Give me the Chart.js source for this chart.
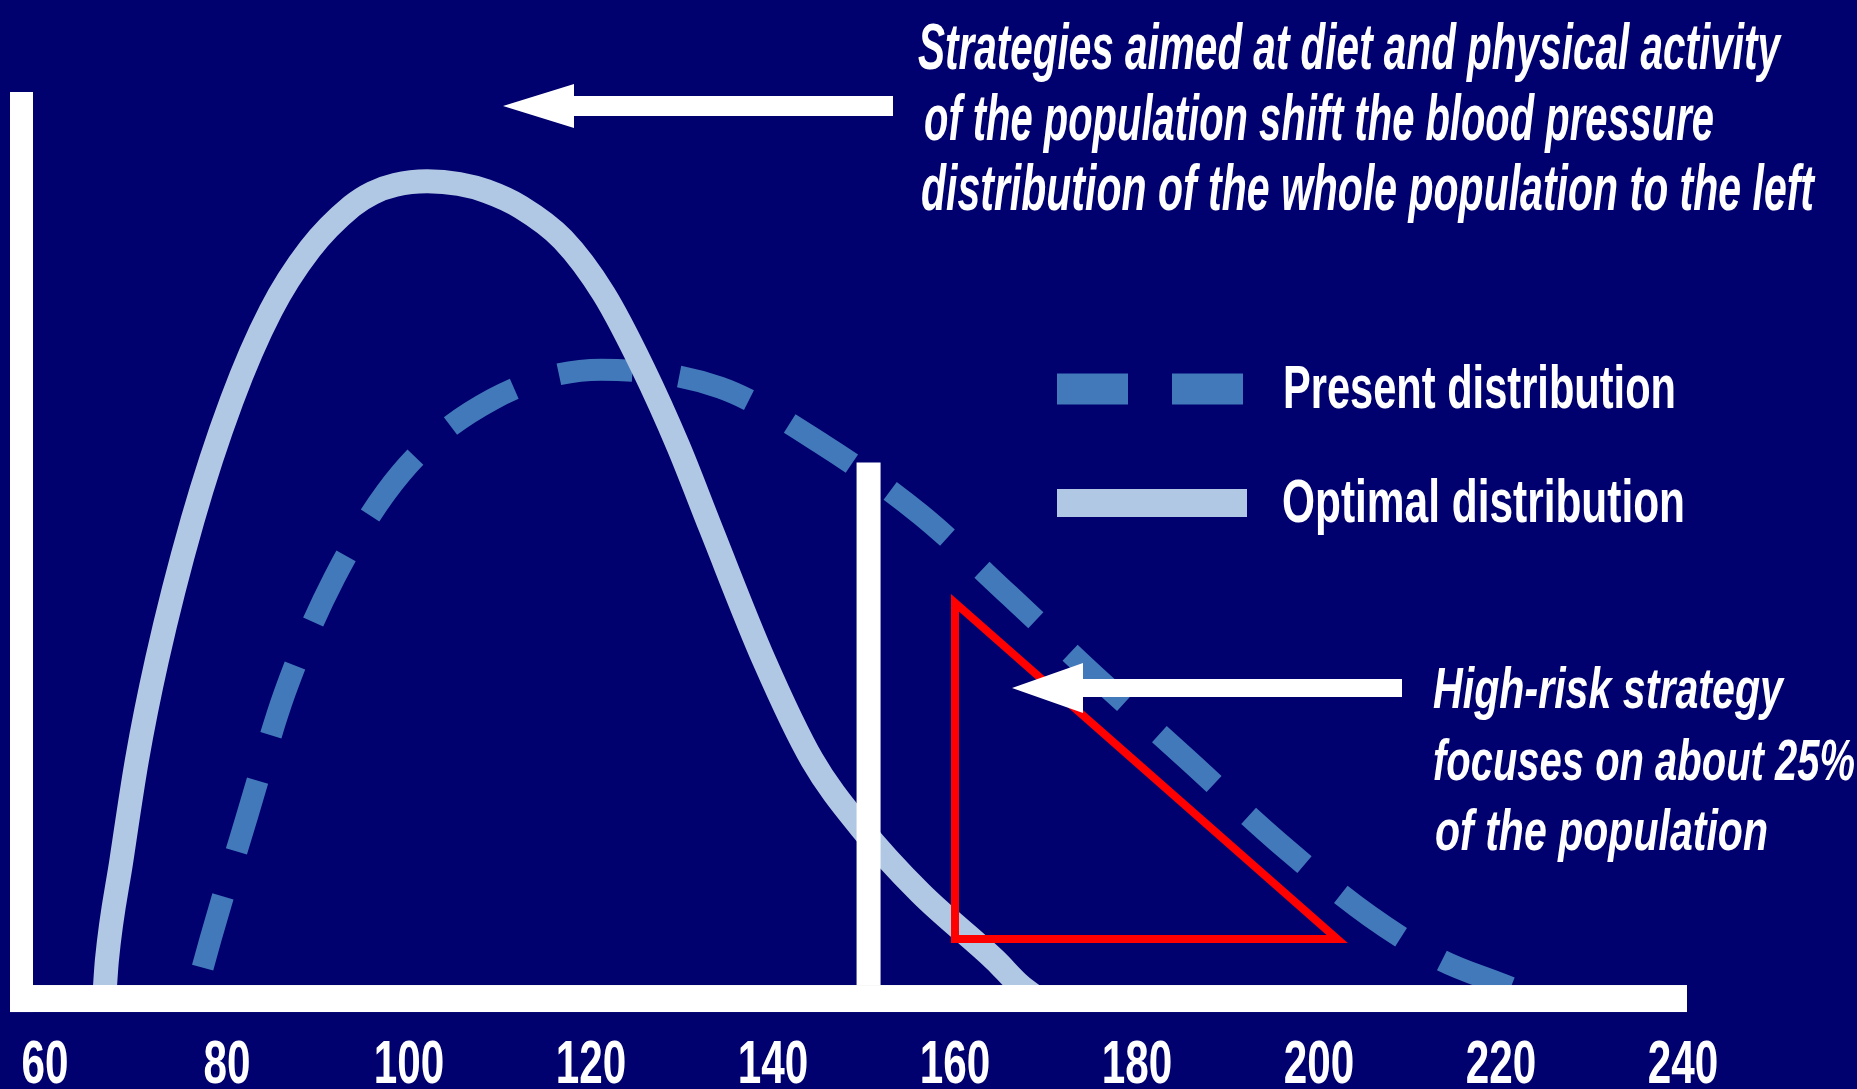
<!DOCTYPE html>
<html>
<head>
<meta charset="utf-8">
<title>Blood pressure distribution</title>
<script src="https://cdn.jsdelivr.net/npm/chart.js@4.4.1/dist/chart.umd.min.js"></script>
<style>
  html, body { margin: 0; padding: 0; background: #00006e; }
  #chart { display: block; }
</style>
</head>
<body>
<canvas id="chart" width="1857" height="1089"></canvas>
<script>
// systolic blood pressure (mmHg) vs relative share of the population
const xTicks = [60, 80, 100, 120, 140, 160, 180, 200, 220, 240];

const presentBP    = [76.8, 78.2, 82.2, 86.3, 91.8, 99.1, 109.2, 121.1, 134.2, 145.5, 156.2, 166.0, 175.6, 185.5, 195.5, 205.6, 213.4, 220.3, 225.2];
const presentLevel = [0, 5.2, 18.9, 32.6, 45.6, 57.3, 65.6, 68.9, 66.9, 60.5, 52.7, 43.6, 34.4, 25.3, 16.0, 7.7, 2.8, 0, -2.0];

const optimalBP    = [66.5, 66.6, 66.8, 68.4, 70.1, 72.3, 76.2, 80.5, 84.8, 89.1, 93.7, 96.0, 98.5, 102.0, 105.5, 108.5,
                      112.3, 116.9, 121.4, 125.7, 129.6, 133.1, 139.0, 144.3, 149.6, 156.2, 164.4, 167.1, 169.3];
const optimalLevel = [-1.7, 0, 2.8, 14.0, 25.2, 36.4, 52.0, 65.4, 75.5, 82.4, 87.2, 88.7, 89.6, 90.0, 89.7, 88.9,
                      87.1, 83.5, 77.4, 69.1, 60.3, 51.3, 36.4, 25.2, 17.7, 10.3, 2.8, 0, -1.7];

// high-risk cut-off and the triangle marking the tail it targets
const cutoffBP    = [150.5, 150.5];
const cutoffLevel = [58.5, 0];
const riskBP      = [160, 160, 202, 160, 160];
const riskLevel   = [42.8, 5.15, 5.15, 42.8, 5.15];

const NAVY = '#00006e';
const PRESENT_BLUE = '#4279ba';
const OPTIMAL_BLUE = '#b0c8e4';
const SANS = '"Liberation Sans Narrow", "Liberation Sans", Arial, sans-serif';

const toPoints = (xs, ys) => xs.map((x, i) => ({ x: x, y: ys[i] }));

function arrow(ctx, tail, tip, y, shaft, headLen, headHalf) {
  ctx.beginPath();
  ctx.moveTo(tail, y - shaft / 2);
  ctx.lineTo(tip + headLen, y - shaft / 2);
  ctx.lineTo(tip + headLen, y - headHalf);
  ctx.lineTo(tip, y);
  ctx.lineTo(tip + headLen, y + headHalf);
  ctx.lineTo(tip + headLen, y + shaft / 2);
  ctx.lineTo(tail, y + shaft / 2);
  ctx.closePath();
  ctx.fill();
}

function lines(ctx, rows) {
  rows.forEach(r => ctx.fillText(r[0], r[1], r[2], r[3]));
}

const background = {
  id: 'background',
  beforeDraw(chart) {
    const ctx = chart.ctx;
    ctx.save();
    ctx.fillStyle = NAVY;
    ctx.fillRect(0, 0, chart.width, chart.height);
    ctx.restore();
  }
};

// white axis bars, tick labels and the two arrows sit on top of the curves
const overlay = {
  id: 'overlay',
  afterDatasetsDraw(chart) {
    const ctx = chart.ctx;
    const area = chart.chartArea;
    const xs = chart.scales.x;
    const y0 = chart.scales.y.getPixelForValue(0);
    ctx.save();
    ctx.fillStyle = '#ffffff';
    ctx.fillRect(area.left, area.top, 23, y0 - area.top + 27);
    ctx.fillRect(area.left, y0, area.right - area.left, 27);

    // the original uses a very narrow face, so squeeze the labels to its width
    ctx.font = 'bold 61px ' + SANS;
    ctx.textAlign = 'center';
    ctx.textBaseline = 'alphabetic';
    xs.ticks.forEach(t => {
      const label = String(t.label != null ? t.label : t.value);
      ctx.fillText(label, xs.getPixelForValue(t.value), y0 + 98, label.length * 23.5);
    });

    arrow(ctx, 893, 503, 106, 20, 71, 22);
    arrow(ctx, 1402, 1012, 688, 18, 71, 25);
    ctx.restore();
  }
};

const notes = {
  id: 'notes',
  afterDraw(chart) {
    const ctx = chart.ctx;
    const present = chart.data.datasets.find(d => d.label === 'Present distribution');
    const optimal = chart.data.datasets.find(d => d.label === 'Optimal distribution');
    ctx.save();

    // legend swatches
    ctx.strokeStyle = present.borderColor;
    ctx.lineWidth = 31;
    ctx.setLineDash([71, 44]);
    ctx.beginPath();
    ctx.moveTo(1057, 389);
    ctx.lineTo(1243, 389);
    ctx.stroke();
    ctx.setLineDash([]);
    ctx.strokeStyle = optimal.borderColor;
    ctx.lineWidth = 28;
    ctx.beginPath();
    ctx.moveTo(1057, 503);
    ctx.lineTo(1247, 503);
    ctx.stroke();

    ctx.fillStyle = '#ffffff';
    ctx.textBaseline = 'alphabetic';
    ctx.textAlign = 'left';
    ctx.font = 'bold 62px ' + SANS;
    lines(ctx, [
      [present.label, 1283, 408, 393],
      [optimal.label, 1282, 522, 403]
    ]);

    ctx.font = 'italic bold 64px ' + SANS;
    lines(ctx, [
      ['Strategies aimed at diet and physical activity', 918, 69, 862],
      ['of the population shift the blood pressure', 924, 140, 790],
      ['distribution of the whole population to the left', 921, 210, 893]
    ]);

    ctx.font = 'italic bold 58px ' + SANS;
    lines(ctx, [
      ['High-risk strategy', 1433, 708, 350],
      ['focuses on about 25%', 1433, 780, 422],
      ['of the population', 1435, 850, 333]
    ]);
    ctx.restore();
  }
};

new Chart(document.getElementById('chart').getContext('2d'), {
  type: 'line',
  data: {
    datasets: [
      {
        label: 'High-risk group',
        data: toPoints(riskBP, riskLevel),
        borderColor: '#ff0000',
        borderWidth: 8,
        borderJoinStyle: 'miter',
        tension: 0,
        pointRadius: 0,
        fill: false,
        order: 0
      },
      {
        label: 'Cut-off',
        data: toPoints(cutoffBP, cutoffLevel),
        borderColor: '#ffffff',
        borderWidth: 24,
        borderCapStyle: 'butt',
        tension: 0,
        pointRadius: 0,
        fill: false,
        order: 1
      },
      {
        label: 'Optimal distribution',
        data: toPoints(optimalBP, optimalLevel),
        borderColor: OPTIMAL_BLUE,
        borderWidth: 24,
        cubicInterpolationMode: 'monotone',
        pointRadius: 0,
        fill: false,
        order: 2
      },
      {
        label: 'Present distribution',
        data: toPoints(presentBP, presentLevel),
        borderColor: PRESENT_BLUE,
        borderWidth: 22,
        borderDash: [74, 47],
        borderDashOffset: 103,
        borderCapStyle: 'butt',
        cubicInterpolationMode: 'monotone',
        pointRadius: 0,
        fill: false,
        order: 3
      }
    ]
  },
  options: {
    responsive: false,
    devicePixelRatio: 1,
    animation: false,
    events: [],
    layout: { padding: { left: 10, right: 170, top: 92, bottom: 1 } },
    plugins: {
      legend: { display: false },
      tooltip: { enabled: false }
    },
    scales: {
      x: {
        type: 'linear',
        min: 56.15,
        max: 240.44,
        afterBuildTicks: scale => { scale.ticks = xTicks.map(v => ({ value: v })); },
        afterFit: scale => { scale.height = 76; },
        grid: { display: false, drawTicks: false },
        border: { display: false },
        ticks: { display: false }
      },
      y: {
        display: false,
        min: -3.02,
        max: 100
      }
    }
  },
  plugins: [background, overlay, notes]
});
</script>
</body>
</html>
